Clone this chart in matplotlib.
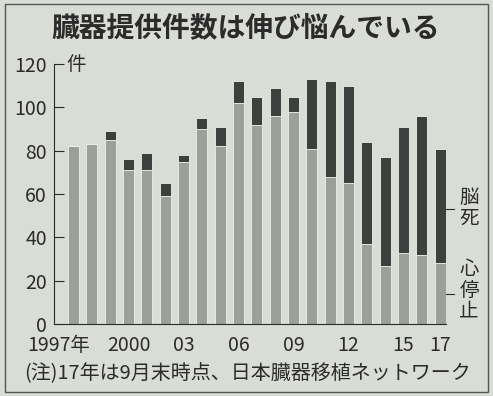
import matplotlib
matplotlib.use('Agg')
import numpy as np
from matplotlib import pyplot as plt
from matplotlib.patches import Rectangle
import matplotlib.transforms as mtransforms

plt.rcParams['font.family'] = ['Noto Sans CJK JP', 'DejaVu Sans']

# organ donations per year (2017: up to end of September)
years = list(range(1997, 2018))
heart_stop = [82, 83, 85, 71, 71, 59, 75, 90, 82, 102, 92,
              96, 98, 81, 68, 65, 37, 27, 33, 32, 28]
brain_death = [0, 0, 4, 5, 8, 6, 3, 5, 9, 10, 13,
               13, 7, 32, 44, 45, 47, 50, 58, 64, 53]
tick_years = [1997, 2000, 2003, 2006, 2009, 2012, 2015, 2017]
tick_labels = ['1997年', '2000', '03', '06', '09', '12', '15', '17']
y_ticks = [0, 20, 40, 60, 80, 100, 120]

bg = '#d9ddd6'
light = '#9d9f99'
dark = '#3d403c'
ink = '#2b2b2b'

fig = plt.figure(figsize=(4.93, 3.96), dpi=100, facecolor=bg)
ax = fig.add_axes([54 / 493, 1 - 324 / 396, 391.7 / 493, 260 / 396])
ax.set_facecolor(bg)

ax.bar(years, heart_stop, width=0.6, color=light, edgecolor='#eef0ea', linewidth=0.6)
ax.bar(years, brain_death, width=0.6, bottom=heart_stop, color=dark,
       edgecolor='#eef0ea', linewidth=0.6)

ax.set_xlim(1997 - 1.07, 2017.3)
ax.set_ylim(0, 120)
ax.set_yticks(y_ticks)
ax.set_yticklabels([str(v) for v in y_ticks], fontsize=14, color=ink)
ax.tick_params(axis='y', direction='in', length=7, width=0.8, color=ink, pad=5)
ax.set_xticks(tick_years)
ax.set_xticklabels(tick_labels, fontsize=14, color=ink)
ax.tick_params(axis='x', length=0, pad=8)
# shift the first label left so it does not crowd 2000
lab0 = ax.get_xticklabels()[0]
lab0.set_transform(lab0.get_transform() + mtransforms.ScaledTranslation(-15 / 100, 0, fig.dpi_scale_trans))

for s in ['top', 'right']:
    ax.spines[s].set_visible(False)
for s in ['left', 'bottom']:
    ax.spines[s].set_color(ink)
    ax.spines[s].set_linewidth(0.8)

# unit label
fig.text(76 / 493, 1 - 64 / 396, '件', fontsize=14, color=ink, ha='center', va='center')

# legend labels on the right with leader lines
ax.plot([2017.3, 2017.75], [53, 53], color=ink, lw=0.8, clip_on=False)
ax.plot([2017.3, 2017.75], [14, 14], color=ink, lw=0.8, clip_on=False)
fig.text(469 / 493, 1 - 208 / 396, '脳\n死', fontsize=14, color=ink, ha='center', va='center',
         linespacing=1.0)
fig.text(469 / 493, 1 - 290 / 396, '心\n停\n止', fontsize=14, color=ink, ha='center', va='center',
         linespacing=1.0)

# title and note
fig.text(246 / 493, 1 - 28 / 396, '臓器提供件数は伸び悩んでいる', fontsize=20, fontweight='bold',
         color=ink, ha='center', va='center')
fig.text(247 / 493, 1 - 373 / 396, '(注)17年は9月末時点、日本臓器移植ネットワーク', fontsize=14.4,
         color=ink, ha='center', va='center')

# frame round the graphic
fig.patches.append(Rectangle((5 / 493, 4 / 396), 483 / 493, 388 / 396, transform=fig.transFigure,
                             fill=False, edgecolor='#555555', linewidth=1.0))

fig.savefig('out.png', dpi=100, facecolor=bg)
